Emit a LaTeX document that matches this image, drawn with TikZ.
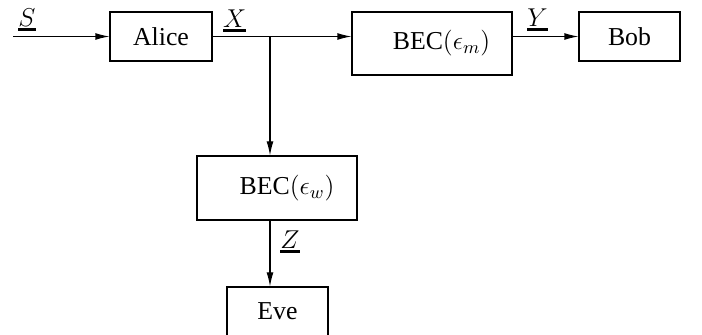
\documentclass[tikz,border=0pt]{standalone}
\usepackage{fix-cm}
\usepackage{fontspec}
\setmainfont{Liberation Serif}
\usetikzlibrary{arrows.meta}
\newcommand\ulsym[1]{\vtop{\hbox{$#1$}\kern0.7pt\hrule height 1.2pt}}
\begin{document}
\begin{tikzpicture}[x=0.5pt,y=-0.5pt,
  blk/.style={draw, line width=0.55pt, inner sep=0pt, font=\fontsize{12.9}{15}\selectfont},
  lbl/.style={inner sep=0pt, anchor=base, font=\fontsize{12.9}{15}\selectfont},
  conn/.style={line width=0.55pt, -{Latex[length=7pt,width=3.4pt]}},
  wire/.style={line width=0.55pt}]
\useasboundingbox (0,0) rectangle (702,335);
\node[blk, minimum width=51pt, minimum height=24.5pt] (alice) at (161,36.5) {Alice};
\node[blk, minimum width=80pt, minimum height=31.5pt] (bm) at (432,43.5) {\hspace*{9.5pt}\raisebox{-2pt}{BEC$(\epsilon_m)$}};
\node[blk, minimum width=50.5pt, minimum height=24.5pt] (bob) at (629.5,36.5) {Bob};
\node[blk, minimum width=80pt, minimum height=32pt] (bw) at (277,188) {\hspace*{10pt}\raisebox{-2pt}{BEC$(\epsilon_w)$}};
\node[blk, minimum width=50.5pt, minimum height=24.5pt] (eve) at (277.5,311.5) {Eve};
\coordinate (sin) at (13,36.5);
\coordinate (jn) at (270,36.5);
\draw[conn] (sin) -- (alice.west);
\draw[conn] (alice.east) -- (alice.east -| bm.west);
\draw[conn] (jn) -- (jn |- bw.north);
\draw[conn] (bob.west -| bm.east) -- (bob.west);
\draw[conn] (jn |- bw.south) -- (jn |- eve.north);
\node[lbl] (s) at (27,27) {\ulsym{S}};
\node[lbl] (x) at (234.5,28) {\ulsym{X}};
\node[lbl] (y) at (537.5,27) {\ulsym{Y}};
\node[lbl] (z) at (290,249) {\ulsym{Z}};
\end{tikzpicture}
\end{document}
